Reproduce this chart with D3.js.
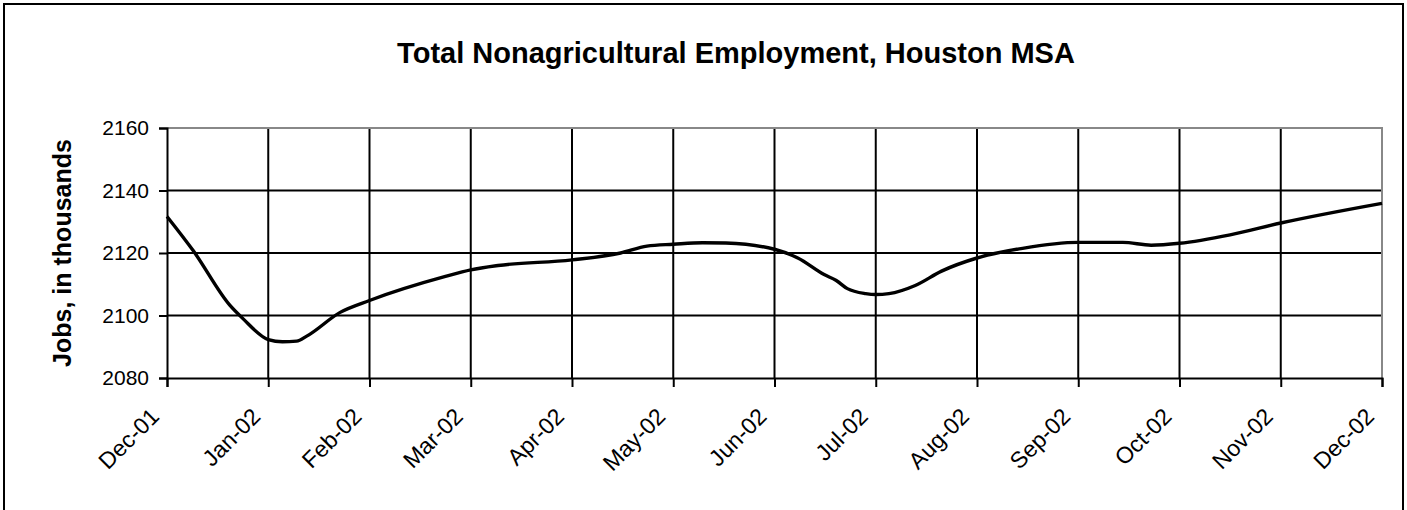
<!DOCTYPE html>
<html>
<head>
<meta charset="utf-8">
<script src="https://cdn.jsdelivr.net/npm/d3@7"></script>
<style>
  body { margin: 0; background: #fff; }
  text { font-family: "Liberation Sans", Arial, sans-serif; }
</style>
</head>
<body>
<div id="container"></div>
<script>
// month labels on the x axis
let monthLabels = ["Dec-01", "Jan-02", "Feb-02", "Mar-02", "Apr-02", "May-02", "Jun-02",
    "Jul-02", "Aug-02", "Sep-02", "Oct-02", "Nov-02", "Dec-02"];
// position of each observation, in months after Dec-01
let monthPos = [0, 0.26, 0.62, 0.75, 1, 1.14, 1.28, 1.38, 1.71, 2, 2.75, 3, 3.27, 4,
    4.48, 4.74, 5, 5.29, 5.52, 6, 6.23, 6.49, 6.61, 6.72, 6.9, 7, 7.13, 7.39, 7.65, 8,
    8.45, 9, 9.44, 9.72, 10, 10.5, 11, 12];
// jobs, in thousands
let jobs = [2131.7, 2120.7, 2103.3, 2099.0, 2092.3, 2091.6, 2091.8, 2093.4, 2101.0, 2104.8,
    2112.5, 2114.6, 2116.0, 2117.8, 2120.0, 2122.2, 2122.8, 2123.3, 2123.2, 2121.2,
    2118.4, 2113.1, 2111.2, 2108.6, 2107.0, 2106.7, 2107.0, 2109.6, 2114.2, 2118.4,
    2121.5, 2123.4, 2123.4, 2122.5, 2123.1, 2125.8, 2129.6, 2135.9];
let yTicks = [2080, 2100, 2120, 2140, 2160];

let width = 1407, height = 510;
let margin = {top: 128, right: 25, bottom: 132, left: 167};

let svg = d3.select('#container')
    .append('svg')
    .attr('width', width)
    .attr('height', height);

// outer frame
svg.append('rect')
    .attr('x', 4).attr('y', 4)
    .attr('width', width - 8).attr('height', height + 10)
    .attr('fill', 'none').attr('stroke', '#000').attr('stroke-width', 2);

let x = d3.scaleLinear()
    .domain([0, 12])
    .range([margin.left, width - margin.right]);
let y = d3.scaleLinear()
    .domain([2080, 2160])
    .range([height - margin.bottom, margin.top]);

// gridlines
svg.append('g')
    .selectAll('line')
    .data(yTicks.slice(1, 4))
    .enter()
    .append('line')
    .attr('x1', x(0)).attr('x2', x(12))
    .attr('y1', d => y(d)).attr('y2', d => y(d))
    .attr('stroke', '#000').attr('stroke-width', 2);

svg.append('g')
    .selectAll('line')
    .data(d3.range(1, 12))
    .enter()
    .append('line')
    .attr('x1', d => x(d)).attr('x2', d => x(d))
    .attr('y1', y(2160)).attr('y2', y(2080))
    .attr('stroke', '#000').attr('stroke-width', 2);

// plot border top/right grey
svg.append('path')
    .attr('d', `M${x(0)},${y(2160)}H${x(12)}V${y(2080)}`)
    .attr('fill', 'none').attr('stroke', '#888').attr('stroke-width', 2);

// axes
let xAxis = svg.append('g')
    .attr('transform', `translate(0,${y(2080)})`)
    .call(d3.axisBottom(x).tickValues(d3.range(0, 13)).tickSize(9).tickFormat(d => monthLabels[d]));
xAxis.select('.domain').attr('stroke-width', 2);
xAxis.selectAll('.tick line').attr('stroke-width', 2);
xAxis.selectAll('.tick text')
    .attr('font-size', 23)
    .attr('font-family', '"Liberation Sans", Arial, sans-serif')
    .attr('fill', '#000')
    .attr('text-anchor', 'end')
    .attr('x', 0).attr('y', 0).attr('dy', 0)
    .attr('transform', 'translate(-7,40) rotate(-45)');

let yAxis = svg.append('g')
    .attr('transform', `translate(${x(0)},0)`)
    .call(d3.axisLeft(y).tickValues(yTicks).tickSize(8).tickPadding(10).tickFormat(d3.format('d')));
yAxis.select('.domain').attr('stroke-width', 2);
yAxis.selectAll('.tick line').attr('stroke-width', 2);
yAxis.selectAll('.tick text')
    .attr('font-size', 21)
    .attr('font-family', '"Liberation Sans", Arial, sans-serif')
    .attr('fill', '#000');

// data line
let line = d3.line()
    .x((d, i) => x(monthPos[i]))
    .y(d => y(d))
    .curve(d3.curveMonotoneX);

svg.append('path')
    .datum(jobs)
    .attr('d', line)
    .attr('fill', 'none')
    .attr('stroke', '#000')
    .attr('stroke-width', 3.4)
    .attr('stroke-linejoin', 'round');

// title
svg.append('text')
    .attr('x', 736).attr('y', 63)
    .attr('text-anchor', 'middle')
    .attr('font-size', 29)
    .attr('font-weight', 'bold')
    .text('Total Nonagricultural Employment, Houston MSA');

// y label
svg.append('text')
    .attr('transform', `translate(71,${(y(2080) + y(2160)) / 2}) rotate(-90)`)
    .attr('text-anchor', 'middle')
    .attr('font-size', 25)
    .attr('font-weight', 'bold')
    .text('Jobs, in thousands');
</script>
</body>
</html>
